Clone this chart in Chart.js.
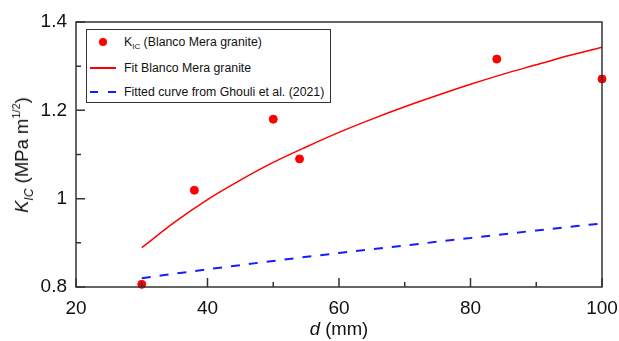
<!DOCTYPE html>
<html>
<head>
<meta charset="utf-8">
<script src="https://cdn.jsdelivr.net/npm/chart.js@4/dist/chart.umd.min.js"></script>
<style>
    body { margin: 0; background: #fff; }
    #wrap { position: relative; width: 619px; height: 341px; font-family: "Liberation Sans", Arial, sans-serif; color: #111; }
    #chart { position: absolute; left: 0; top: 0; }
    .ytitle { position: absolute; left: 23px; top: 155px; transform: translate(-50%, -50%) rotate(-90deg); white-space: nowrap; font-size: 18.5px; }
    .xtitle { position: absolute; left: 339px; top: 329px; transform: translate(-50%, -50%); white-space: nowrap; font-size: 18.5px; }
    .ytitle sub { font-size: 12px; vertical-align: -5px; }
    .ytitle sup { font-size: 11px; vertical-align: 8px; }
    #legend { position: absolute; left: 86px; top: 29px; width: 243px; height: 72px; border: 1px solid #333; background: #fff; font-size: 12.3px; }
    .row { position: absolute; left: 0; height: 16px; width: 100%; }
    .row span.txt { position: absolute; left: 37px; top: 0; line-height: 16px; white-space: nowrap; }
    .row sub { font-size: 8px; vertical-align: -3px; }
    .dot { position: absolute; left: 12px; top: 4px; width: 8px; height: 8px; border-radius: 50%; background: #ff0000; }
    .ln { position: absolute; top: 7px; height: 2px; background: #ff0000; }
    .dash { position: absolute; top: 7px; height: 2px; background: #1a1aff; }
</style>
</head>
<body>
<div id="wrap">
    <canvas id="chart" width="619" height="341"></canvas>
    <div class="ytitle"><i>K</i><sub><i>IC</i></sub> (MPa m<sup>1/2</sup>)</div>
    <div class="xtitle"><i>d</i> (mm)</div>
    <div id="legend">
        <div class="row" style="top:4px"><span class="dot"></span><span class="txt">K<sub>IC</sub> (Blanco Mera granite)</span></div>
        <div class="row" style="top:30px"><span class="ln" style="left:3px;width:26px"></span><span class="txt">Fit Blanco Mera granite</span></div>
        <div class="row" style="top:54px"><span class="dash" style="left:3px;width:8px"></span><span class="dash" style="left:21px;width:8px"></span><span class="txt">Fitted curve from Ghouli et al. (2021)</span></div>
    </div>
</div>
<script>
// measured K_IC
const kicD = [30, 38, 50, 54, 84, 100];
const kicValues = [0.806, 1.019, 1.180, 1.090, 1.316, 1.271];

// fit curve
const fitD = [30, 35, 40, 45, 50, 55, 60, 65, 70, 75, 80, 85, 90, 95, 100];
const fitValues = [0.889, 0.947, 0.998, 1.042, 1.082, 1.117, 1.150, 1.180, 1.208, 1.234, 1.259, 1.282, 1.303, 1.324, 1.343];

// Ghouli et al. (2021)
const ghouliD = [30, 40, 50, 60, 70, 80, 90, 100];
const ghouliValues = [0.820, 0.840, 0.859, 0.877, 0.894, 0.911, 0.928, 0.944];

const xLabels = [20, 40, 60, 80, 100];
const yLabels = [0.8, 1, 1.2, 1.4];

const toXY = (xs, ys) => xs.map((x, i) => ({ x: x, y: ys[i] }));

const axisColor = '#333';

// frame + inward tick marks
const framePlugin = {
    id: 'frame',
    afterDraw(chart) {
        const ctx = chart.ctx;
        const a = chart.chartArea;
        ctx.save();
        ctx.strokeStyle = axisColor;
        ctx.lineWidth = 1.5;
        ctx.strokeRect(a.left, a.top, a.right - a.left, a.bottom - a.top);
        ctx.beginPath();
        chart.scales.x.ticks.forEach(t => {
            const px = chart.scales.x.getPixelForValue(t.value);
            const len = xLabels.includes(Math.round(t.value)) ? 9 : 5;
            ctx.moveTo(px, a.bottom);
            ctx.lineTo(px, a.bottom - len);
        });
        chart.scales.y.ticks.forEach(t => {
            const py = chart.scales.y.getPixelForValue(t.value);
            const v = Math.round(t.value * 10) / 10;
            const len = yLabels.includes(v) ? 9 : 5;
            ctx.moveTo(a.left, py);
            ctx.lineTo(a.left + len, py);
        });
        ctx.stroke();
        ctx.restore();
    }
};

const tickFont = { family: '"Liberation Sans", Arial, sans-serif', size: 19 };

new Chart(document.getElementById('chart'), {
    type: 'scatter',
    data: {
        datasets: [
            {
                label: 'KIC (Blanco Mera granite)',
                data: toXY(kicD, kicValues),
                backgroundColor: '#ff0000',
                borderColor: '#ff0000',
                pointRadius: 4,
                clip: false
            },
            {
                label: 'Fit Blanco Mera granite',
                data: toXY(fitD, fitValues),
                showLine: true,
                borderColor: '#ff0000',
                borderWidth: 1.5,
                pointRadius: 0,
                cubicInterpolationMode: 'monotone'
            },
            {
                label: 'Fitted curve from Ghouli et al. (2021)',
                data: toXY(ghouliD, ghouliValues),
                showLine: true,
                borderColor: '#1a1aff',
                borderWidth: 2,
                borderDash: [9, 9],
                pointRadius: 0,
                cubicInterpolationMode: 'monotone'
            }
        ]
    },
    options: {
        responsive: false,
        animation: false,
        layout: { padding: { top: 22, right: 17, left: 0, bottom: 0 } },
        plugins: { legend: { display: false }, tooltip: { enabled: false } },
        scales: {
            x: {
                min: 20, max: 100,
                afterFit: (s) => { s.height = 54; s.paddingLeft = 0; s.paddingRight = 0; },
                grid: { display: false, drawTicks: false },
                border: { display: false },
                ticks: {
                    stepSize: 10,
                    padding: 10,
                    maxRotation: 0,
                    autoSkip: false,
                    color: '#111',
                    font: tickFont,
                    callback: (v) => xLabels.includes(Math.round(v)) ? String(Math.round(v)) : ''
                }
            },
            y: {
                min: 0.8, max: 1.4,
                afterFit: (s) => { s.width = 76; s.paddingTop = 0; s.paddingBottom = 0; },
                grid: { display: false, drawTicks: false },
                border: { display: false },
                ticks: {
                    stepSize: 0.1,
                    padding: 9,
                    autoSkip: false,
                    color: '#111',
                    font: tickFont,
                    callback: (v) => {
                        const r = Math.round(v * 10) / 10;
                        return yLabels.includes(r) ? String(r) : '';
                    }
                }
            }
        }
    },
    plugins: [framePlugin]
});
</script>
</body>
</html>
